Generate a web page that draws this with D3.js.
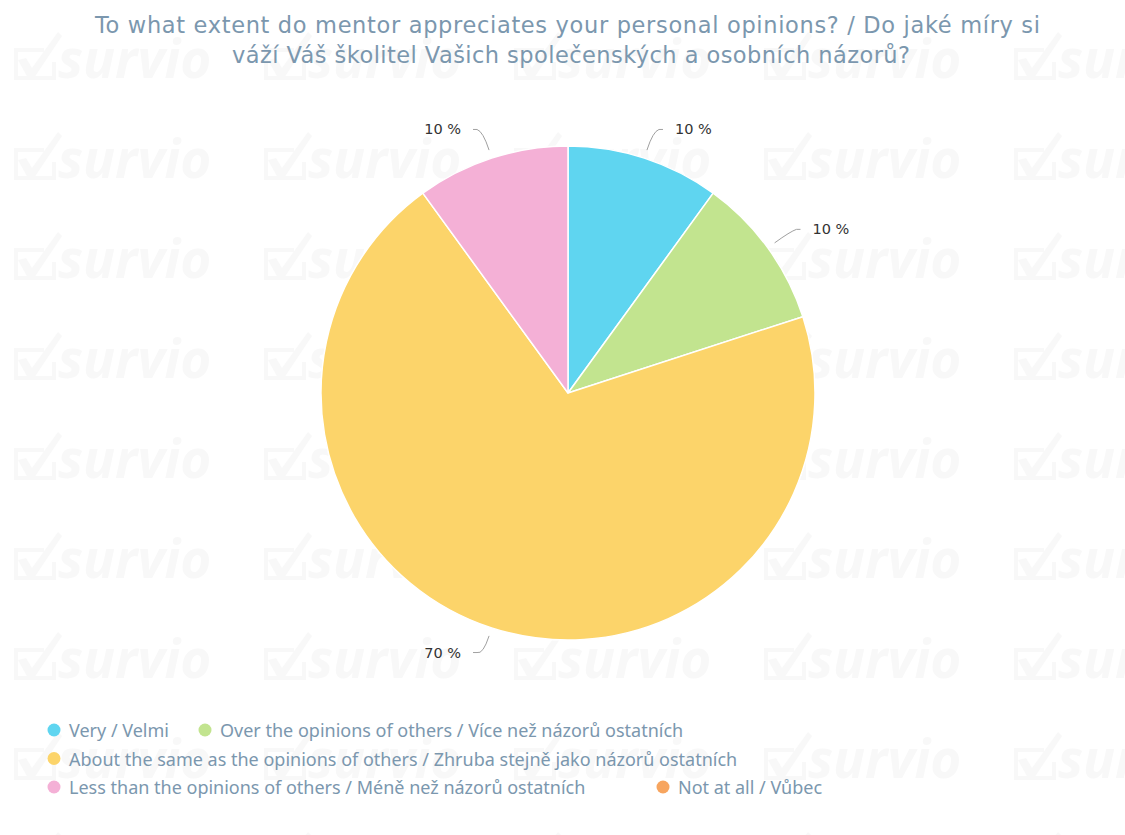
<!DOCTYPE html>
<html><head><meta charset="utf-8">
<script src="https://cdn.jsdelivr.net/npm/d3@7"></script>
<style>body{margin:0;background:#fff}svg{display:block}
.dj{font-family:'DejaVu Sans','Verdana',sans-serif}
</style>
</head><body>
<svg id="chart" width="1125" height="835"></svg>
<script>
const categories = [
  "Very / Velmi",
  "Over the opinions of others / Více než názorů ostatních",
  "About the same as the opinions of others / Zhruba stejně jako názorů ostatních",
  "Less than the opinions of others / Méně než názorů ostatních",
  "Not at all / Vůbec"
];
const values = [10, 10, 70, 10, 0];
const colors = ["#5fd5f0", "#c2e48f", "#fcd46a", "#f4b0d6", "#f7a55f"];
const titleLines = [
  "To what extent do mentor appreciates your personal opinions? / Do jaké míry si",
  "váží Váš školitel Vašich společenských a osobních názorů?"
];
const titleWidths = [945, 678];
const legendRows = [[0, 1], [2], [3, 4]];

const svg = d3.select("#chart");

// watermark
const wm = svg.append("g");
for (let row = 0; row < 9; row++) {
  for (let col = 0; col < 5; col++) {
    const x = 12 + col * 250, y = 78 + row * 100;
    const g = wm.append("g").attr("transform", `translate(${x},${y})`);
    g.append("path").attr("d", "M2,-30 h30 v4 h-26 v24 h34 v-14 h4 v18 h-42z").attr("fill", "#f8f8f8");
    g.append("path").attr("d", "M6,-18 l8,-2 l6,10 l26,-36 l4,4 l-28,42 h-6z").attr("fill", "#f8f8f8");
    g.append("text").attr("x", 46).attr("y", 0).text("survio")
      .style("font-family", "'Open Sans', sans-serif").attr("font-weight", 700)
      .attr("font-style", "italic").attr("font-size", 53).attr("fill", "#f8f8f8");
  }
}

// title
svg.append("g").selectAll("text").data(titleLines).join("text")
  .attr("class", "dj")
  .attr("x", (d, i) => i === 0 ? 567.5 : 571).attr("y", (d, i) => 33 + i * 30)
  .attr("text-anchor", "middle")
  .attr("font-size", 22.5).attr("fill", "#7b97ae")
  .attr("textLength", (d, i) => titleWidths[i]).attr("lengthAdjust", "spacing")
  .text(d => d);

// pie
const cx = 568, cy = 393, r = 247;
const pie = d3.pie().sort(null).value(d => d)(values);
const arc = d3.arc().innerRadius(0).outerRadius(r);
const gp = svg.append("g").attr("transform", `translate(${cx},${cy})`);
gp.selectAll("path.slice").data(pie.filter(d => d.value > 0)).join("path")
  .attr("class", "slice")
  .attr("d", arc).attr("fill", d => colors[d.index])
  .attr("stroke", "#fff").attr("stroke-width", 1.5).attr("stroke-linejoin", "round");

// labels
pie.filter(d => d.value > 0).forEach(d => {
  const a = (d.startAngle + d.endAngle) / 2;
  const s = Math.sin(a), c = -Math.cos(a);
  const p0 = [r * s, r * c];
  const p1 = [(r + 28) * s, (r + 28) * c];
  const right = s >= 0;
  const lx = p1[0] + (right ? 10 : -10);
  const ly = p1[1] - 2;
  gp.append("path")
    .attr("d", `M${lx},${ly} L${lx + (right ? -4 : 4)},${ly} Q${p1[0]},${p1[1]} ${p0[0] + (p1[0]-p0[0])*0.3},${p0[1] + (p1[1]-p0[1])*0.3}`)
    .attr("fill", "none").attr("stroke", "#a0a0a0").attr("stroke-width", 1);
  gp.append("text").attr("class", "dj")
    .attr("x", lx + (right ? 12 : -12)).attr("y", ly + 5)
    .attr("text-anchor", right ? "start" : "end")
    .attr("font-size", 14.5)
    .attr("fill", "#333")
    .text(d3.format("d")(d.value) + " %");
});

// legend
const lg = svg.append("g");
const colX = [[54, 205], [54], [54, 663]];
legendRows.forEach((row, ri) => {
  row.forEach((ci, k) => {
    const x = colX[ri][k], y = 731 + ri * 28.5;
    lg.append("circle").attr("cx", x).attr("cy", y - 1).attr("r", 6.5).attr("fill", colors[ci]);
    lg.append("text").attr("x", x + 15).attr("y", y + 6)
      .style("font-family", "'Noto Sans', sans-serif").attr("font-size", 18)
      .attr("fill", "#7b97ae").text(categories[ci]);
  });
});
</script>
</body></html>
